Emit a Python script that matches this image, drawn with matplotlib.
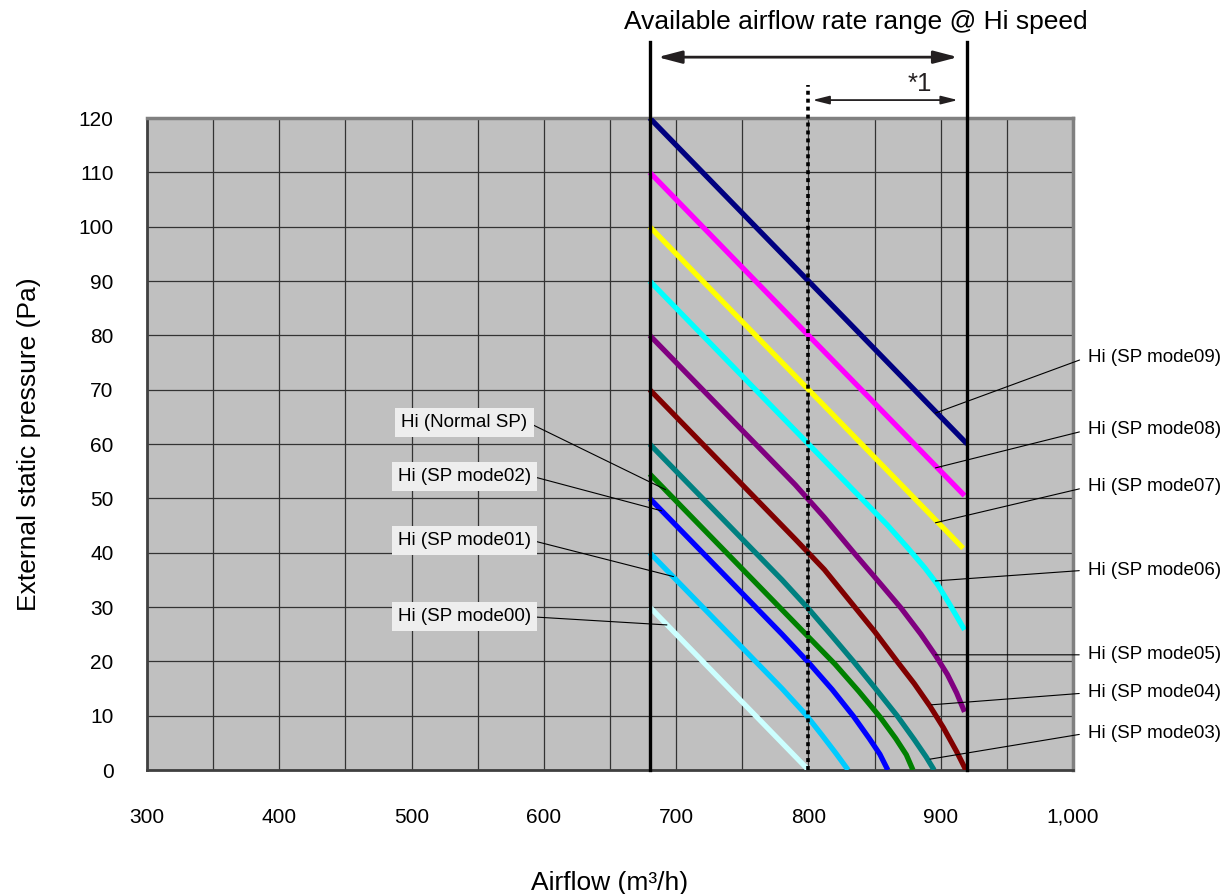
import matplotlib
matplotlib.use("Agg")
import matplotlib.pyplot as plt
from matplotlib.ticker import FuncFormatter, MultipleLocator

plt.rcParams["font.family"] = ["Liberation Sans", "DejaVu Sans"]

# fan curves: airflow (m3/h) vs external static pressure (Pa)
MODE09_X = [680, 920]
MODE09_Y = [120, 60]
MODE08_X = [680, 918]
MODE08_Y = [110, 50.5]
MODE07_X = [680, 917]
MODE07_Y = [100, 40.8]
MODE06_X = [680, 840, 860, 875, 888, 898, 906, 913, 918]
MODE06_Y = [90, 50, 45, 40.9, 37.2, 34, 30.8, 27.9, 25.8]
MODE05_X = [680, 790, 812, 835, 854, 870, 885, 896, 905, 912, 918]
MODE05_Y = [80, 52.5, 46.5, 39.8, 34.4, 29.8, 25, 21.1, 17.6, 14.2, 10.7]
MODE04_X = [680, 790, 812, 835, 850, 867, 880, 892, 902, 912, 919]
MODE04_Y = [70, 42.5, 36.9, 30, 25.5, 20, 15.9, 11.7, 7.8, 3.4, 0]
MODE03_X = [680, 780, 800, 818, 834, 850, 867, 880, 889, 895]
MODE03_Y = [60, 35, 29.7, 24.6, 20, 15.2, 10, 5.6, 2.4, 0]
NORMAL_X = [680, 780, 800, 820, 838, 854, 866, 874, 879]
NORMAL_Y = [54.5, 29.5, 24.5, 19.5, 14.5, 9.8, 5.8, 2.8, 0]
MODE02_X = [680, 780, 800, 818, 834, 846, 854, 860]
MODE02_Y = [50, 25, 19.8, 14.8, 9.9, 5.8, 2.9, 0]
MODE01_X = [680, 780, 798, 810, 821, 830]
MODE01_Y = [40, 15, 10.2, 6.5, 3, 0]
MODE00_X = [680, 800]
MODE00_Y = [30, 0]

SERIES = [
    (MODE09_X, MODE09_Y, "#000080"),
    (MODE08_X, MODE08_Y, "#FF00FF"),
    (MODE07_X, MODE07_Y, "#FFFF00"),
    (MODE06_X, MODE06_Y, "#00FFFF"),
    (MODE05_X, MODE05_Y, "#800080"),
    (MODE04_X, MODE04_Y, "#800000"),
    (MODE03_X, MODE03_Y, "#008080"),
    (NORMAL_X, NORMAL_Y, "#008000"),
    (MODE02_X, MODE02_Y, "#0000FF"),
    (MODE01_X, MODE01_Y, "#00CCFF"),
    (MODE00_X, MODE00_Y, "#CCFFFF"),
]

# labels on the right, outside the plot
RIGHT_LABELS = ["Hi (SP mode09)", "Hi (SP mode08)", "Hi (SP mode07)", "Hi (SP mode06)",
                "Hi (SP mode05)", "Hi (SP mode04)", "Hi (SP mode03)"]
RIGHT_TEXT_Y = [76.0, 62.6, 52.1, 36.8, 21.2, 14.2, 6.8]
RIGHT_TIP_X = [896, 896, 896, 896, 896, 893, 892]
RIGHT_TIP_Y = [65.7, 55.6, 45.5, 34.8, 21.2, 12.0, 2.0]

# boxed labels on the left, inside the plot
LEFT_LABELS = ["Hi (Normal SP)", "Hi (SP mode02)", "Hi (SP mode01)", "Hi (SP mode00)"]
LEFT_TEXT_Y = [64.0, 54.1, 42.3, 28.2]
LEFT_TIP_X = [692, 689, 698, 693]
LEFT_TIP_Y = [51.6, 47.7, 35.6, 26.7]

RANGE_MIN = 680
RANGE_MID = 800
RANGE_MAX = 920

X_TICKS = [300, 400, 500, 600, 700, 800, 900, 1000]
Y_TICKS = list(range(0, 130, 10))

INK = "#231F20"

fig = plt.figure(figsize=(12.27, 8.94), dpi=100)
ax = fig.add_axes([0.1198, 0.1387, 0.7547, 0.7293])
ax.set_facecolor("#C0C0C0")
ax.set_xlim(300, 1000)
ax.set_ylim(0, 120)

ax.set_xticks(X_TICKS)
ax.xaxis.set_minor_locator(MultipleLocator(50))
ax.set_yticks(Y_TICKS)
ax.xaxis.set_major_formatter(FuncFormatter(lambda v, p: f"{int(v):,}"))
ax.tick_params(axis="both", which="both", length=0, labelsize=15)
ax.tick_params(axis="x", pad=27)
ax.tick_params(axis="y", pad=24)
ax.grid(True, which="both", color="#333333", lw=0.9)
ax.set_axisbelow(True)

for side in ("top", "right"):
    ax.spines[side].set_color("#808080")
    ax.spines[side].set_linewidth(2.5)
for side in ("left", "bottom"):
    ax.spines[side].set_color("#404040")
    ax.spines[side].set_linewidth(2)

# airflow range markers
ax.plot([RANGE_MIN, RANGE_MIN], [0, 134], color="black", lw=2.4, clip_on=False, zorder=4)
ax.plot([RANGE_MAX, RANGE_MAX], [0, 134], color="black", lw=2.4, clip_on=False, zorder=4)
ax.plot([RANGE_MID, RANGE_MID], [0, 126], color="black", lw=2.6, ls=(0, (1.1, 1.1)),
        dash_capstyle="butt", clip_on=False, zorder=4)

for xs, ys, c in SERIES:
    ax.plot(xs, ys, color=c, lw=3.8, solid_capstyle="butt", solid_joinstyle="round", zorder=3)

ax.annotate("", xy=(913, 131.2), xytext=(686, 131.2), annotation_clip=False,
            arrowprops=dict(arrowstyle="<|-|>,head_length=1.45,head_width=0.38",
                            color=INK, lw=2, shrinkA=0, shrinkB=0))
ax.annotate("", xy=(913, 123.3), xytext=(803, 123.3), annotation_clip=False,
            arrowprops=dict(arrowstyle="<|-|>,head_length=1.0,head_width=0.25",
                            color=INK, lw=1.3, shrinkA=0, shrinkB=0))
ax.text(884, 126.2, "*1", fontsize=18.5, ha="center", va="center", color=INK, clip_on=False)
ax.text(836, 137.7, "Available airflow rate range @ Hi speed", fontsize=19,
        ha="center", va="center", color="black", clip_on=False)

for label, ty, tx, tip_y in zip(RIGHT_LABELS, RIGHT_TEXT_Y, RIGHT_TIP_X, RIGHT_TIP_Y):
    ax.annotate(label, xy=(tx, tip_y), xytext=(1011, ty), fontsize=13.5,
                ha="left", va="center", annotation_clip=False, zorder=5,
                arrowprops=dict(arrowstyle="-", color="black", lw=0.8,
                                relpos=(0, 0.5), shrinkA=4, shrinkB=0))

for label, ty, tx, tip_y in zip(LEFT_LABELS, LEFT_TEXT_Y, LEFT_TIP_X, LEFT_TIP_Y):
    ax.annotate(label, xy=(tx, tip_y), xytext=(540, ty), fontsize=13.5,
                ha="center", va="center", zorder=5,
                bbox=dict(boxstyle="square,pad=0.32", fc="#EEEEEE", ec="none"),
                arrowprops=dict(arrowstyle="-", color="black", lw=0.8,
                                relpos=(1, 0.5), shrinkA=0, shrinkB=0))

ax.set_xlabel("Airflow (m³/h)", fontsize=19)
ax.xaxis.set_label_coords(0.5, -0.155)
ax.set_ylabel("External static pressure (Pa)", fontsize=19)
ax.yaxis.set_label_coords(-0.115, 0.5)

fig.savefig("out.png", dpi=100)
